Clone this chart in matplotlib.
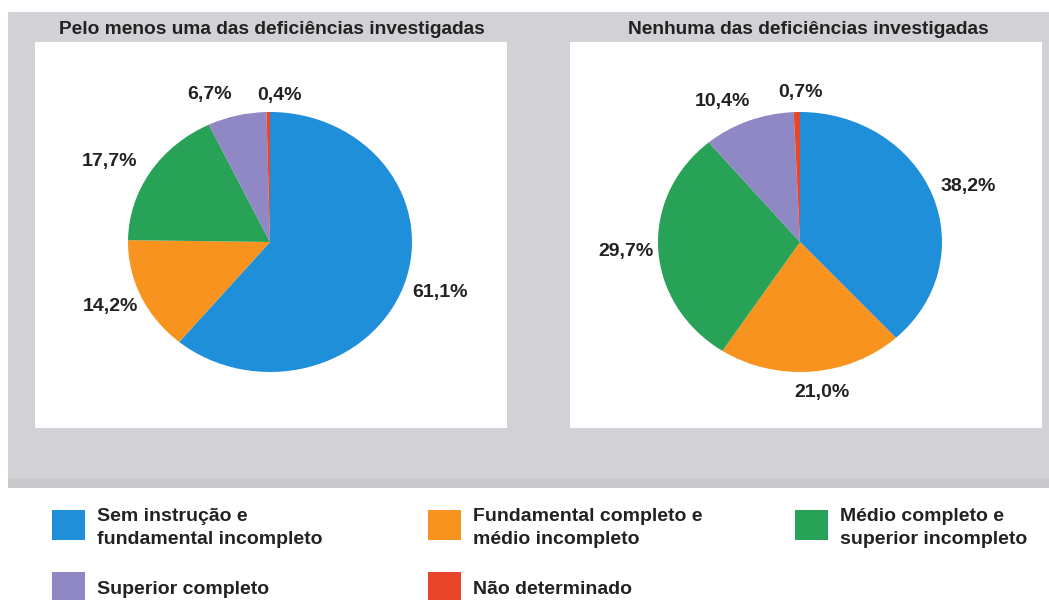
import numpy as np
import matplotlib
matplotlib.use("Agg")
import matplotlib.pyplot as plt
from matplotlib.patches import Rectangle

plt.rcParams['font.family'] = ['Liberation Sans', 'DejaVu Sans']

categories = [
    "Sem instrução e\nfundamental incompleto",
    "Fundamental completo e\nmédio incompleto",
    "Médio completo e\nsuperior incompleto",
    "Superior completo",
    "Não determinado",
]
colors = ["#1f8fd9", "#f7931e", "#27a257", "#8f88c4", "#e8462a"]

titles = ["Pelo menos uma das deficiências investigadas",
          "Nenhuma das deficiências investigadas"]
with_disability = [61.1, 14.2, 17.7, 6.7, 0.4]
without_disability = [38.2, 21.0, 29.7, 10.4, 0.7]
series = [with_disability, without_disability]

# label placement: distance from centre and angular nudge (deg) per slice
label_dist = [[1.26, 1.23, 1.29, 1.21, 1.13], [1.26, 1.17, 1.23, 1.21, 1.15]]
label_nudge = [[2, -1, 4, 7, -4], [-1.5, 3, 0, 5.5, -1.3]]

W, H = 1049, 600
fig = plt.figure(figsize=(W / 100, H / 100), dpi=100)
fig.patch.set_facecolor("white")


def px_rect(x0, y0, x1, y1):
    # pixel box (top-left origin) -> figure fraction
    return [x0 / W, 1 - y1 / H, (x1 - x0) / W, (y1 - y0) / H]


def add_box(x0, y0, x1, y1, color):
    l, b, w, h = px_rect(x0, y0, x1, y1)
    fig.patches.append(Rectangle((l, b), w, h, transform=fig.transFigure,
                                 facecolor=color, edgecolor="none", zorder=-5))


add_box(8, 12, 1049, 488, "#d2d2d6")
add_box(8, 478, 1049, 488, "#c9c9cc")
add_box(35, 42, 507, 428, "white")
add_box(570, 42, 1042, 428, "white")

centres = [(270, 242), (800, 242)]
title_x = [272, 808]
rx, ry, lim = 142, 130, 1.5

for i, vals in enumerate(series):
    cx, cy = centres[i]
    ax = fig.add_axes(px_rect(cx - rx * lim, cy - ry * lim,
                              cx + rx * lim, cy + ry * lim))
    ax.set_zorder(2)
    wedges, _ = ax.pie(vals, colors=colors, startangle=90, counterclock=False,
                       wedgeprops=dict(linewidth=0))
    ax.set_aspect("auto")
    ax.set_xlim(-lim, lim)
    ax.set_ylim(-lim, lim)
    ax.axis("off")
    for j, (w, v) in enumerate(zip(wedges, vals)):
        mid = np.deg2rad((w.theta1 + w.theta2) / 2 + label_nudge[i][j])
        r = label_dist[i][j]
        ax.text(r * np.cos(mid), r * np.sin(mid), f"{v:.1f}%".replace(".", ","),
                ha="center", va="center", fontsize=14, fontweight="bold",
                color="#222222")
    fig.text(title_x[i] / W, 1 - 30 / H, titles[i], ha="center", va="center",
             fontsize=13.8, fontweight="bold", color="#222222")

# legend
col_x = [52, 428, 795]
row_y = [510, 572]
for k, (name, c) in enumerate(zip(categories, colors)):
    x = col_x[k % 3]
    y = row_y[k // 3]
    add_box(x, y, x + 33, y + 30, c)
    fig.text((x + 45) / W, 1 - (y + 18) / H, name, ha="left", va="center",
             fontsize=14, fontweight="bold", color="#222222", linespacing=1.4)

fig.savefig("out.png", dpi=100, facecolor="white")
